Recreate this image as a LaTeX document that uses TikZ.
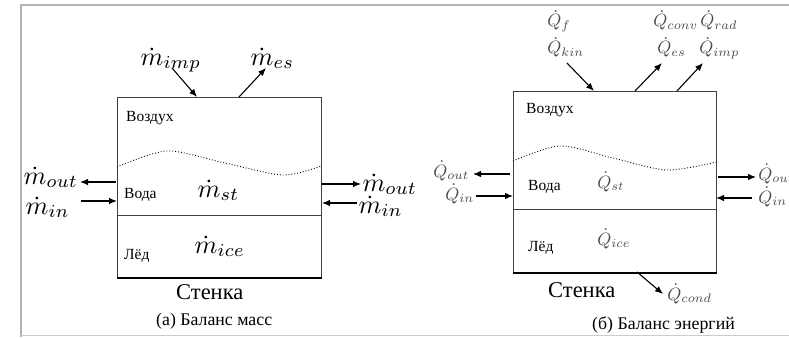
\documentclass[tikz,border=0pt]{standalone}
\usepackage{fontspec}
\setmainfont{Liberation Serif}
\usetikzlibrary{arrows.meta}
\begin{document}
\begin{tikzpicture}[x=1pt,y=-1pt,
  flow/.style={line width=1.1pt,-{Latex[length=8pt,width=6.5pt]}},
  boxline/.style={draw=black!75,line width=0.9pt,inner sep=0pt,anchor=north west},
  wall/.style={line width=2.6pt},
  frameline/.style={draw=black!30,line width=1.5pt},
  mA/.style={font=\normalsize, transform shape, scale=2.6, inner sep=0pt, anchor=base west},
  mB/.style={font=\normalsize, transform shape, scale=1.78, text=black!70, inner sep=0pt, anchor=base west},
  lab/.style={font=\fontsize{15.5}{18}\selectfont, inner sep=0pt, anchor=base west},
  wl/.style={font=\fontsize{22.5}{26}\selectfont, inner sep=0pt, anchor=base west},
  captext/.style={font=\fontsize{17.8}{20}\selectfont, inner sep=0pt, anchor=base west},
  wave/.style={dotted, line width=0.9pt}
]
\useasboundingbox (0,0) rectangle (789,337);
% frame
\draw[frameline] (21,337) -- (21,5) -- (789,5);
\draw[draw=black!20, line width=1pt] (21,335) -- (789,335);

% ---------- left panel ----------
\node[boxline, minimum width=204pt, minimum height=180pt] (boxA) at (117,97) {};
\coordinate (sepAl) at (117,215); \coordinate (sepAr) at (321,215);
\draw[draw=black!75,line width=0.9pt] (sepAl) -- (sepAr);
\draw[wall] (boxA.south west) -- (boxA.south east);
\draw[wave] plot[smooth] coordinates {(117,167) (167,151) (225,163) (283,175) (321,166)};

\node[mA] (mimp) at (140,65) {$\dot m_{imp}$};
\node[mA] (mes) at (250,65) {$\dot m_{es}$};
\node[mA] (moutL) at (23,184) {$\dot m_{out}$};
\node[mA] (minL) at (25,214) {$\dot m_{in}$};
\node[mA] (moutR) at (362,191) {$\dot m_{out}$};
\node[mA] (minR) at (358,213) {$\dot m_{in}$};
\node[mA] (mst) at (197,197) {$\dot m_{st}$};
\node[mA] (mice) at (194,253) {$\dot m_{ice}$};
\node[lab] (airA) at (126,121) {Воздух};
\node[lab] (watA) at (124,198) {Вода};
\node[lab] (iceA) at (124,259) {Лёд};
\node[wl] (wallA) at (176,299) {Стенка};
\node[captext] (capA) at (156,325) {(а) Баланс масс};

\coordinate (a1t) at (172,68);  \coordinate (a1h) at (197,97);
\coordinate (a2t) at (239,97);  \coordinate (a2h) at (266,68);
\coordinate (a3t) at (116,182); \coordinate (a3h) at (80,182);
\coordinate (a4t) at (81,201);  \coordinate (a4h) at (117,201);
\coordinate (a5t) at (322,184); \coordinate (a5h) at (361,184);
\coordinate (a6t) at (357,203); \coordinate (a6h) at (322,203);
\draw[flow] (a1t) -- (a1h);
\draw[flow] (a2t) -- (a2h);
\draw[flow] (a3t) -- (a3h);
\draw[flow] (a4t) -- (a4h);
\draw[flow] (a5t) -- (a5h);
\draw[flow] (a6t) -- (a6h);

% ---------- right panel ----------
\node[boxline, minimum width=203pt, minimum height=181pt] (boxB) at (513,91) {};
\coordinate (sepBl) at (513,209); \coordinate (sepBr) at (716,209);
\draw[draw=black!75,line width=0.9pt] (sepBl) -- (sepBr);
\draw[wall] (boxB.south west) -- (boxB.south east);
\draw[wave] plot[smooth] coordinates {(513,161) (560,146) (613,158) (667,170) (716,162)};

\node[mB] (qf) at (547,27) {$\dot Q_{f}$};
\node[mB] (qkin) at (547,54) {$\dot Q_{kin}$};
\node[mB] (qconv) at (653,27) {$\dot Q_{conv}$};
\node[mB] (qes) at (657,54) {$\dot Q_{es}$};
\node[mB] (qrad) at (700,27) {$\dot Q_{rad}$};
\node[mB] (qimp) at (699,54) {$\dot Q_{imp}$};
\node[mB] (qoutL) at (433,177) {$\dot Q_{out}$};
\node[mB] (qinL) at (445,200) {$\dot Q_{in}$};
\node[mB] (qoutR) at (758,180) {$\dot Q_{out}$};
\node[mB] (qinR) at (758,203) {$\dot Q_{in}$};
\node[mB] (qst) at (597,188) {$\dot Q_{st}$};
\node[mB] (qice) at (597,245) {$\dot Q_{ice}$};
\node[mB] (qcond) at (667,300) {$\dot Q_{cond}$};
\node[lab] (airB) at (526,113) {Воздух};
\node[lab] (watB) at (528,190) {Вода};
\node[lab] (iceB) at (528,251) {Лёд};
\node[wl] (wallB) at (548,297) {Стенка};
\node[captext] (capB) at (592,329) {(б) Баланс энергий};

\coordinate (b1t) at (567,63);  \coordinate (b1h) at (594,91);
\coordinate (b2t) at (635,91);  \coordinate (b2h) at (662,63);
\coordinate (b3t) at (677,91);  \coordinate (b3h) at (703,63);
\coordinate (b4t) at (510,174); \coordinate (b4h) at (473,174);
\coordinate (b5t) at (476,196); \coordinate (b5h) at (513,196);
\coordinate (b6t) at (718,177); \coordinate (b6h) at (756,177);
\coordinate (b7t) at (752,198); \coordinate (b7h) at (716,198);
\coordinate (b8t) at (637,272); \coordinate (b8h) at (663,294);
\draw[flow] (b1t) -- (b1h);
\draw[flow] (b2t) -- (b2h);
\draw[flow] (b3t) -- (b3h);
\draw[flow] (b4t) -- (b4h);
\draw[flow] (b5t) -- (b5h);
\draw[flow] (b6t) -- (b6h);
\draw[flow] (b7t) -- (b7h);
\draw[flow] (b8t) -- (b8h);
\end{tikzpicture}
\end{document}
